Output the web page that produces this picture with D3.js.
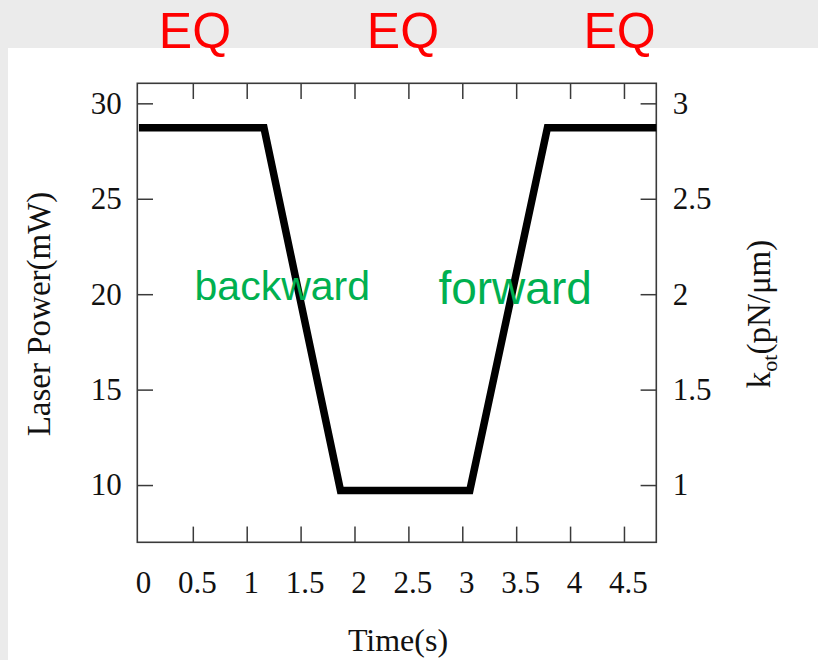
<!DOCTYPE html>
<html>
<head>
<meta charset="utf-8">
<script src="https://cdn.jsdelivr.net/npm/d3@7"></script>
<style>
  html, body { margin: 0; padding: 0; background: #ebebeb; }
  svg { display: block; }
</style>
</head>
<body>
<svg id="chart" width="818" height="660"></svg>
<script>
// Laser power protocol: equilibrium, backward ramp, equilibrium, forward ramp, equilibrium
const timeS    = [0, 1.16, 1.87, 3.07, 3.79, 4.8];
const powerMW  = [28.72, 28.72, 9.72, 9.72, 28.72, 28.72];

const timeTicks  = [0, 0.5, 1, 1.5, 2, 2.5, 3, 3.5, 4, 4.5];
const powerTicks = [10, 15, 20, 25, 30];
const stiffTicks = [1, 1.5, 2, 2.5, 3];

const phaseNames = ["EQ", "EQ", "EQ"];
const phaseTimes = [0.52, 2.45, 4.46];

const rampNames  = ["backward", "forward"];
const rampTimes  = [1.33, 3.49];
const rampPower  = [19.67, 19.5];
const rampSizes  = [41, 46];

const svg = d3.select("#chart");

// white panel below the header band
svg.append("rect").attr("x", 8).attr("y", 48).attr("width", 810).attr("height", 612).attr("fill", "#ffffff");

const plotL = 137.3, plotR = 656.3, plotT = 83.3, plotB = 542.3;

const x = d3.scaleLinear().domain([-0.015, 4.8]).range([plotL, plotR]);
const y = d3.scaleLinear().domain([7, 31.05]).range([plotB, plotT]);
const yk = d3.scaleLinear().domain([0.7, 3.105]).range([plotB, plotT]);

const axisColor = "#3a3a3a";
const serif = "'Liberation Serif', 'Times New Roman', serif";
const sans = "'Liberation Sans', Arial, sans-serif";
const tickLen = 15.7;

function styleAxis(g) {
  g.select(".domain").remove();
  g.selectAll(".tick line").attr("stroke", axisColor).attr("stroke-width", 1.5);
  g.selectAll(".tick text").attr("font-family", serif).attr("font-size", 31).attr("fill", "#111");
}

// bottom axis (inward ticks; the tick at 0 sits on the frame)
const gb = svg.append("g").attr("transform", `translate(0,${plotB})`)
  .call(d3.axisBottom(x).tickValues(timeTicks).tickSize(-tickLen).tickFormat(d3.format("")));
styleAxis(gb);
gb.selectAll(".tick").filter(d => d === 0).select("line").remove();
gb.selectAll(".tick text").attr("y", 50.4).attr("dy", 0).attr("dx", 4);

// top axis (inward ticks, no labels)
const gt = svg.append("g").attr("transform", `translate(0,${plotT})`)
  .call(d3.axisTop(x).tickValues(timeTicks.filter(d => d > 0)).tickSize(-tickLen).tickFormat(""));
styleAxis(gt);

// left axis
const gl = svg.append("g").attr("transform", `translate(${plotL},0)`)
  .call(d3.axisLeft(y).tickValues(powerTicks).tickSize(-tickLen).tickFormat(d3.format("")));
styleAxis(gl);
gl.selectAll(".tick text").attr("x", -15.5).attr("dy", "0.32em");

// right axis
const gr = svg.append("g").attr("transform", `translate(${plotR},0)`)
  .call(d3.axisRight(yk).tickValues(stiffTicks).tickSize(-tickLen).tickFormat(d3.format("")));
styleAxis(gr);
gr.selectAll(".tick text").attr("x", 16.5).attr("dy", "0.32em");

// frame
svg.append("rect")
  .attr("x", plotL).attr("y", plotT)
  .attr("width", plotR - plotL).attr("height", plotB - plotT)
  .attr("fill", "none").attr("stroke", axisColor).attr("stroke-width", 1.6);

// power trace
const line = d3.line().x(d => x(d[0])).y(d => y(d[1]));
svg.append("path")
  .datum(timeS.map((t, i) => [t, powerMW[i]]))
  .attr("d", line)
  .attr("fill", "none")
  .attr("stroke", "#000")
  .attr("stroke-width", 7.5)
  .attr("stroke-linejoin", "miter");

// ramp labels
svg.selectAll("text.ramp").data(rampNames).join("text")
  .attr("class", "ramp")
  .attr("x", (d, i) => x(rampTimes[i]))
  .attr("y", (d, i) => y(rampPower[i]))
  .attr("text-anchor", "middle")
  .attr("font-family", sans)
  .attr("font-size", (d, i) => rampSizes[i])
  .attr("fill", "#00b050")
  .text(d => d);

// phase labels in the header band
svg.selectAll("text.phase").data(phaseNames).join("text")
  .attr("class", "phase")
  .attr("x", (d, i) => x(phaseTimes[i]))
  .attr("y", 47.7)
  .attr("text-anchor", "middle")
  .attr("font-family", sans)
  .attr("font-size", 50)
  .attr("fill", "#ff0000")
  .text(d => d);

// axis titles
svg.append("text")
  .attr("transform", "translate(50,314) rotate(-90)")
  .attr("text-anchor", "middle")
  .attr("font-family", serif)
  .attr("font-size", 33)
  .attr("fill", "#111")
  .text("Laser Power(mW)");

const kt = svg.append("text")
  .attr("transform", "translate(770,314) rotate(-90)")
  .attr("text-anchor", "middle")
  .attr("font-family", serif)
  .attr("font-size", 33)
  .attr("fill", "#111");
kt.append("tspan").text("k");
kt.append("tspan").attr("font-size", 22).attr("dy", 7).text("ot");
kt.append("tspan").attr("dy", -7).text("(pN/μm)");

svg.append("text")
  .attr("x", 398).attr("y", 651)
  .attr("text-anchor", "middle")
  .attr("font-family", serif)
  .attr("font-size", 32)
  .attr("fill", "#111")
  .text("Time(s)");
</script>
</body>
</html>
